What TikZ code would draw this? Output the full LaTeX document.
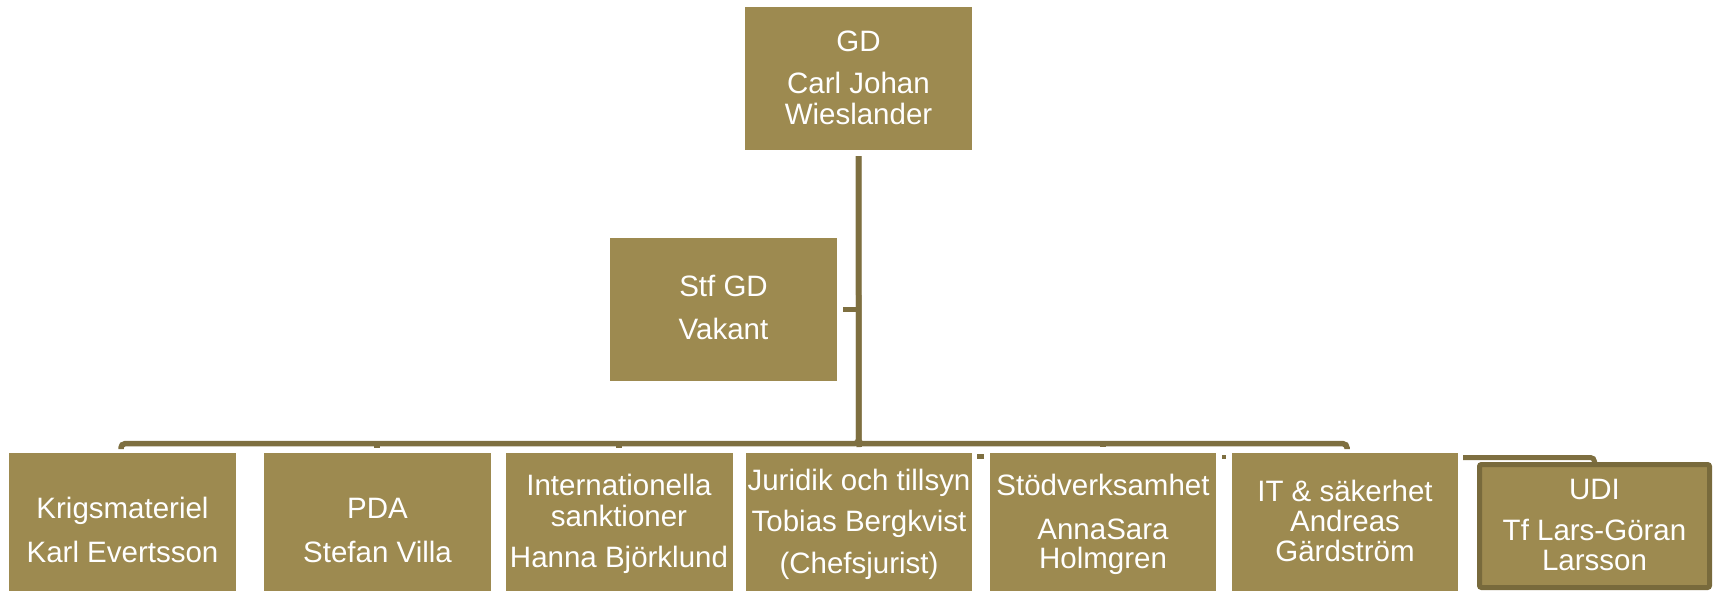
\documentclass[tikz,border=0pt]{standalone}
\usepackage{fontspec}
\setmainfont{Liberation Sans}
\definecolor{boxfill}{HTML}{9D8A50}
\definecolor{connc}{HTML}{7E6F40}
\definecolor{udiborder}{HTML}{786A3C}
\newcommand\toprule[1]{\rule{0pt}{#1bp}}
\newcommand\botrule{\rule[-10bp]{0pt}{10bp}}
\begin{document}
\begin{tikzpicture}[x=1bp,y=-1bp,
  box/.style={fill=boxfill, text=white, inner sep=0pt, minimum width=227bp,
    minimum height=143bp, align=center, font=\fontsize{29.6pt}{30.6pt}\selectfont},
  udibox/.style={box, draw=udiborder, line width=5bp, rounded corners=2bp,
    minimum width=230bp, minimum height=123bp},
  conn/.style={draw=connc, line width=5.5bp},
]
\useasboundingbox (0,0) rectangle (1715,591);
\clip (0,0) rectangle (1715,591);

% top
\node[box] (gd) at (858.5,78.5)
  {\toprule{28.9}GD\\[11.5bp]Carl Johan\\Wieslander\botrule};
\node[box] (stf) at (723.5,309.5)
  {\toprule{27.4}Stf GD\\[12.5bp]Vakant\botrule};

% bottom row
\node[box] (krig) at (122.5,524.5)
  {\toprule{42.5}Krigsmateriel\\[14bp]Karl Evertsson\botrule};
\node[box] (pda) at (377.5,524.5)
  {\toprule{42.5}PDA\\[14bp]Stefan Villa\botrule};
\node[box] (intl) at (619,524.5)
  {\toprule{24}Internationella\\[0.5bp]sanktioner\\[11.5bp]Hanna Björklund\botrule};
\node[box, minimum width=226bp] (jur) at (859,524.5)
  {\toprule{24.4}Juridik och tillsyn\\[11.2bp]Tobias Bergkvist\\[11.2bp](Chefsjurist)\botrule};
\node[box, minimum width=226bp] (stod) at (1103,524.5)
  {\toprule{24.3}Stödverksamhet\\[13.5bp]AnnaSara\\[-1.2bp]Holmgren\botrule};
\node[box, minimum width=226bp] (it) at (1345,524.5)
  {\toprule{24.4}IT \& säkerhet\\[-0.5bp]Andreas\\[-0.5bp]Gärdström\botrule};
\node[udibox] (udi) at (1594.5,526)
  {\toprule{27.7}UDI\\[10.5bp]Tf Lars-Göran\\[0.2bp]Larsson\botrule};

% connectors
\coordinate (gdb) at ([yshift=-6bp]gd.south);
\coordinate (ck) at (121,449);
\coordinate (cp) at (377,448);
\coordinate (ci) at (619,448);
\coordinate (cj) at (859,447);
\coordinate (cs) at (1103,447);
\coordinate (ct) at (1347,449);
\draw[conn, rounded corners=4bp] (gdb) -- ++(0,287.5) -| (ck);
\draw[conn] (gdb) -- ++(0,287.5) -| (cp);
\draw[conn] (gdb) -- ++(0,287.5) -| (ci);
\draw[conn] (gdb) -- (cj);
\draw[conn] (gdb) -- ++(0,287.5) -| (cs);
\draw[conn, rounded corners=4bp] (gdb) -- ++(0,287.5) -| (ct);

\coordinate (stfj) at (859,309.5);
\draw[conn, line width=5bp] ([xshift=6bp]stf.east) -- (stfj);

\coordinate (udis) at (1463,457.5);
\draw[conn, line width=5bp, rounded corners=4bp] (udis) -| (udi.north);

% small marks
\fill[connc] (977,454) rectangle (984,459);
\fill[connc] (1222,455) rectangle (1226,459);
\end{tikzpicture}
\end{document}
